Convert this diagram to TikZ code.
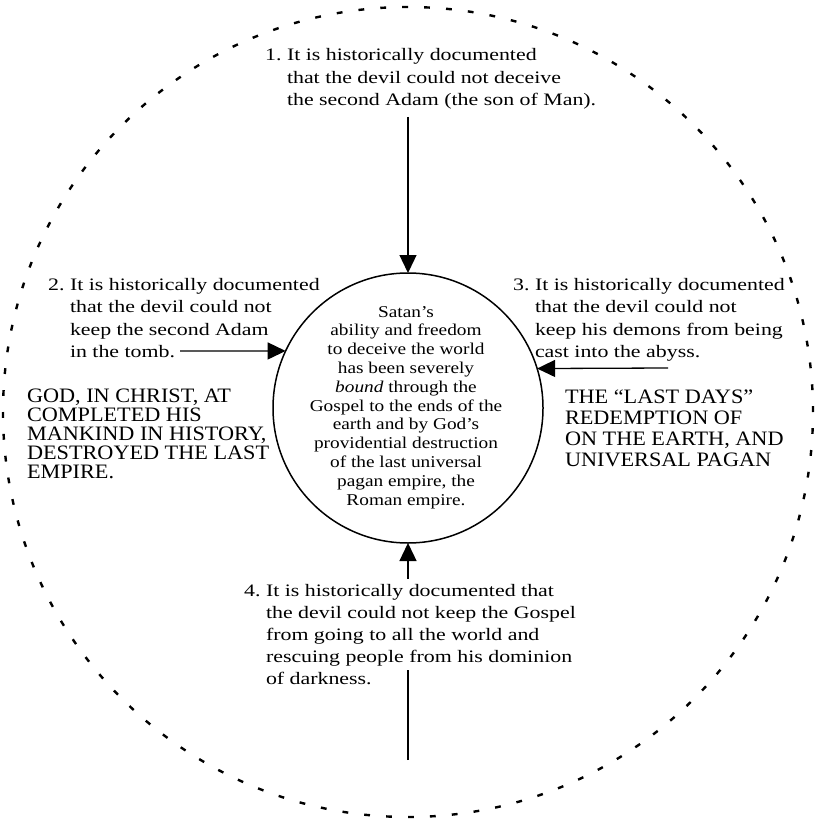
\documentclass[tikz,border=0pt]{standalone}
\usepackage{fontspec}
\setmainfont{Liberation Serif}
\newfontfamily\numfont[FakeStretch=1.25]{Liberation Serif}
\newfontfamily\capfont[FakeStretch=1.085]{Liberation Serif}
\newfontfamily\cenfont[FakeStretch=1.17]{Liberation Serif}
\usetikzlibrary{arrows.meta}
\newcommand\tstrut{\rule{0pt}{16pt}}
\tikzset{
  numtxt/.style={font=\numfont\fontsize{17.5}{22.2}\selectfont, align=left, anchor=north west, inner sep=0pt, outer sep=0pt},
  capleft/.style={font=\capfont\fontsize{20.5}{19}\selectfont, align=left, anchor=north west, inner sep=0pt, outer sep=0pt},
  capright/.style={font=\capfont\fontsize{20.5}{21}\selectfont, align=left, anchor=north west, inner sep=0pt, outer sep=0pt},
  centxt/.style={font=\cenfont\fontsize{16.5}{18.8}\selectfont, align=center, anchor=north, inner sep=0pt, outer sep=0pt},
  arr/.style={line width=1.3pt, -{Triangle[length=18pt,width=17pt]}},
  outerring/.style={circle, draw, line width=2.4pt, dash pattern=on 5.8pt off 16.14pt, minimum size=810pt, inner sep=0pt, outer sep=0pt},
  innerring/.style={circle, draw, line width=1.5pt, minimum size=270pt, inner sep=0pt, outer sep=0pt}
}
\begin{document}
\begin{tikzpicture}[x=1pt,y=-1pt]
\useasboundingbox (0,0) rectangle (815,826);
\node[outerring] (outer) at (408,412) {};
\node[innerring] (c) at (408,408) {};
% arrow start points
\coordinate (s1) at (408,117);
\coordinate (s2) at (180,351);
\coordinate (s3) at (668,368);
\coordinate (s4) at (408,760);
\draw[arr] (s1) -- (c.north);
\draw[arr] (s2) -- (c.155);
\draw[arr] (s3) -- (c.17.24);
\draw[arr] (s4) -- (c.south);
\fill[white] (401,579) rectangle (415,670);
% central text
\node[centxt] (ct) at (406,301) {\tstrut Satan’s\\ability and freedom\\to deceive the world\\has been severely\\\textit{bound} through the\\Gospel to the ends of the\\earth and by God’s\\providential destruction\\of the last universal\\pagan empire, the\\Roman empire.};
% numbered texts
\node[numtxt] (t1) at (287,45) {\tstrut\llap{1.\ }It is historically documented\\that the devil could not deceive\\the second Adam (the son of Man).};
\node[numtxt] (t2) at (70,274.7) {\tstrut\llap{2.\ }It is historically documented\\that the devil could not\\keep the second Adam\\in the tomb.};
\node[numtxt] (t3) at (535,274.7) {\tstrut\llap{3.\ }It is historically documented\\that the devil could not\\keep his demons from being\\cast into the abyss.};
\node[numtxt] (t4) at (266,580) {\tstrut\llap{4.\ }It is historically documented that\\the devil could not keep the Gospel\\from going to all the world and\\rescuing people from his dominion\\of darkness.};
% capital texts
\node[capleft] (l) at (27,386.5) {\tstrut GOD, IN CHRIST, AT\\COMPLETED HIS\\MANKIND IN HISTORY,\\DESTROYED THE LAST\\EMPIRE.};
\node[capright] (r) at (565,387.5) {\tstrut THE “LAST DAYS”\\REDEMPTION OF\\ON THE EARTH, AND\\UNIVERSAL PAGAN};
\end{tikzpicture}
\end{document}
